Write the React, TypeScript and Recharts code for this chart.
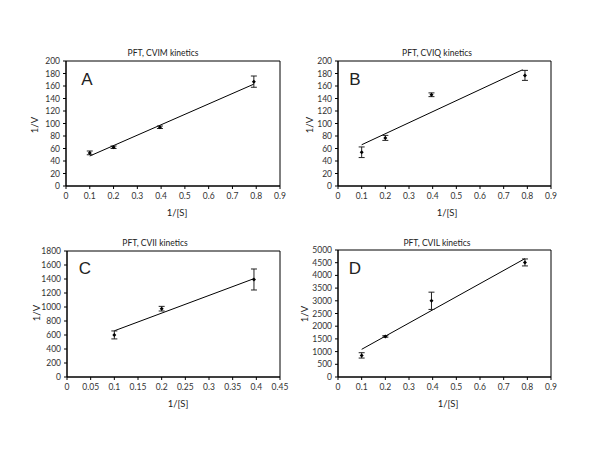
import React from "react";
import {
  ComposedChart,
  Scatter,
  Line,
  XAxis,
  YAxis,
  ErrorBar,
  ReferenceArea,
} from "recharts";

// ---- Data ----
const xA = [0.1, 0.2, 0.395, 0.79];
const yA = [53, 62, 94, 167];
const errA = [3, 2, 2, 9];
const fitXA = [0.1, 0.79];
const fitYA = [48, 163];

const xB = [0.1, 0.2, 0.395, 0.79];
const yB = [54, 77, 146, 177];
const errB = [8.5, 4, 3, 8];
const fitXB = [0.1, 0.78];
const fitYB = [66, 186];

const xC = [0.1, 0.2, 0.395];
const yC = [601, 976, 1393];
const errC = [57, 33, 150];
const fitXC = [0.1, 0.395];
const fitYC = [660, 1405];

const xD = [0.1, 0.2, 0.395, 0.79];
const yD = [851, 1597, 3000, 4510];
const errD = [105, 30, 340, 137];
const fitXD = [0.1, 0.79];
const fitYD = [1090, 4660];

const ticksX9 = [0, 0.1, 0.2, 0.3, 0.4, 0.5, 0.6, 0.7, 0.8, 0.9];
const ticksX45 = [0, 0.05, 0.1, 0.15, 0.2, 0.25, 0.3, 0.35, 0.4, 0.45];
const ticksY200 = [0, 20, 40, 60, 80, 100, 120, 140, 160, 180, 200];
const ticksY1800 = [0, 200, 400, 600, 800, 1000, 1200, 1400, 1600, 1800];
const ticksY5000 = [0, 500, 1000, 1500, 2000, 2500, 3000, 3500, 4000, 4500, 5000];

const titles = ["PFT, CVIM kinetics", "PFT, CVIQ kinetics", "PFT, CVII kinetics", "PFT, CVIL kinetics"];
const letters = ["A", "B", "C", "D"];
const xLabel = "1/[S]";
const yLabel = "1/V";

const pts = (xs: number[], ys: number[], es: number[]) =>
  xs.map((x, i) => ({ x, y: ys[i], err: es[i] }));
const fit = (xs: number[], ys: number[]) => xs.map((x, i) => ({ x, y: ys[i] }));

const FONT = "Lato, 'Open Sans', sans-serif";

const Marker = (props: any) => {
  const { cx, cy } = props;
  if (cx == null || cy == null) return null;
  return <path d={`M${cx},${cy - 2} L${cx + 2},${cy} L${cx},${cy + 2} L${cx - 2},${cy} Z`} fill="#000" />;
};

type PanelProps = {
  left: number;
  top: number;
  margin: { top: number; right: number; bottom: number; left: number };
  yWidth: number;
  data: { x: number; y: number; err: number }[];
  line: { x: number; y: number }[];
  xTicks: number[];
  yTicks: number[];
};

const Panel = ({ left, top, margin, yWidth, data, line, xTicks, yTicks }: PanelProps) => {
  const xMax = xTicks[xTicks.length - 1];
  const yMax = yTicks[yTicks.length - 1];
  return (
    <div style={{ position: "absolute", left, top }}>
      <ComposedChart width={300} height={232} margin={margin}>
        <XAxis
          type="number"
          dataKey="x"
          domain={[0, xMax]}
          ticks={xTicks}
          interval={0}
          height={30}
          tickSize={3}
          tickMargin={4}
          axisLine={{ stroke: "#000" }}
          tickLine={{ stroke: "#000" }}
          tick={{ fontSize: 8.5, fill: "#333", fontFamily: FONT }}
          allowDataOverflow
        />
        <YAxis
          type="number"
          dataKey="y"
          domain={[0, yMax]}
          ticks={yTicks}
          interval={0}
          width={yWidth}
          tickSize={3}
          tickMargin={3}
          axisLine={{ stroke: "#000" }}
          tickLine={{ stroke: "#000" }}
          tick={{ fontSize: 8.5, fill: "#333", fontFamily: FONT }}
          allowDataOverflow
        />
        <ReferenceArea x1={0} x2={xMax} y1={0} y2={yMax} fill="none" stroke="#000" strokeWidth={1} ifOverflow="visible" />
        <Line data={line} dataKey="y" stroke="#000" strokeWidth={1} dot={false} isAnimationActive={false} />
        <Scatter data={data} dataKey="y" shape={<Marker />} isAnimationActive={false}>
          <ErrorBar dataKey="err" direction="y" width={3} stroke="#222" strokeWidth={1} />
        </Scatter>
      </ComposedChart>
    </div>
  );
};

const Txt = ({ x, y, size, children, rotate, font }: any) => (
  <div
    style={{
      position: "absolute",
      left: x,
      top: y,
      transform: `translate(-50%, -50%)${rotate ? " rotate(-90deg)" : ""}`,
      fontSize: size,
      fontFamily: font || FONT,
      color: "#222",
      whiteSpace: "nowrap",
      lineHeight: 1,
    }}
  >
    {children}
  </div>
);

const LFONT = "'Liberation Sans', Arial, sans-serif";

export default function App() {
  return (
    <div style={{ position: "absolute", left: 0, top: 0, width: 600, height: 464, background: "#fff", overflow: "hidden" }}>
      <Panel
        left={0}
        top={0}
        margin={{ top: 61, right: 20, bottom: 16, left: 20 }}
        yWidth={46}
        data={pts(xA, yA, errA)}
        line={fit(fitXA, fitYA)}
        xTicks={ticksX9}
        yTicks={ticksY200}
      />
      <Panel
        left={300}
        top={0}
        margin={{ top: 61, right: 49, bottom: 16, left: 6 }}
        yWidth={32}
        data={pts(xB, yB, errB)}
        line={fit(fitXB, fitYB)}
        xTicks={ticksX9}
        yTicks={ticksY200}
      />
      <Panel
        left={0}
        top={232}
        margin={{ top: 19, right: 20, bottom: 57, left: 21 }}
        yWidth={46}
        data={pts(xC, yC, errC)}
        line={fit(fitXC, fitYC)}
        xTicks={ticksX45}
        yTicks={ticksY1800}
      />
      <Panel
        left={300}
        top={232}
        margin={{ top: 18, right: 49, bottom: 57, left: 6 }}
        yWidth={32}
        data={pts(xD, yD, errD)}
        line={fit(fitXD, fitYD)}
        xTicks={ticksX9}
        yTicks={ticksY5000}
      />

      <Txt x={163} y={53} size={8.5}>{titles[0]}</Txt>
      <Txt x={437} y={53} size={8.5}>{titles[1]}</Txt>
      <Txt x={155} y={243} size={8.5}>{titles[2]}</Txt>
      <Txt x={437} y={243} size={8.5}>{titles[3]}</Txt>

      <Txt x={87} y={79} size={17} font={LFONT}>{letters[0]}</Txt>
      <Txt x={355} y={79} size={17} font={LFONT}>{letters[1]}</Txt>
      <Txt x={85} y={268} size={17} font={LFONT}>{letters[2]}</Txt>
      <Txt x={355} y={268} size={17} font={LFONT}>{letters[3]}</Txt>

      <Txt x={177} y={213} size={9.5}>{xLabel}</Txt>
      <Txt x={447} y={213} size={9.5}>{xLabel}</Txt>
      <Txt x={178} y={404} size={9.5}>{xLabel}</Txt>
      <Txt x={448} y={404} size={9.5}>{xLabel}</Txt>

      <Txt x={35} y={125} size={9.5} rotate>{yLabel}</Txt>
      <Txt x={310} y={125} size={9.5} rotate>{yLabel}</Txt>
      <Txt x={37} y={313} size={9.5} rotate>{yLabel}</Txt>
      <Txt x={305} y={314} size={9.5} rotate>{yLabel}</Txt>
    </div>
  );
}
